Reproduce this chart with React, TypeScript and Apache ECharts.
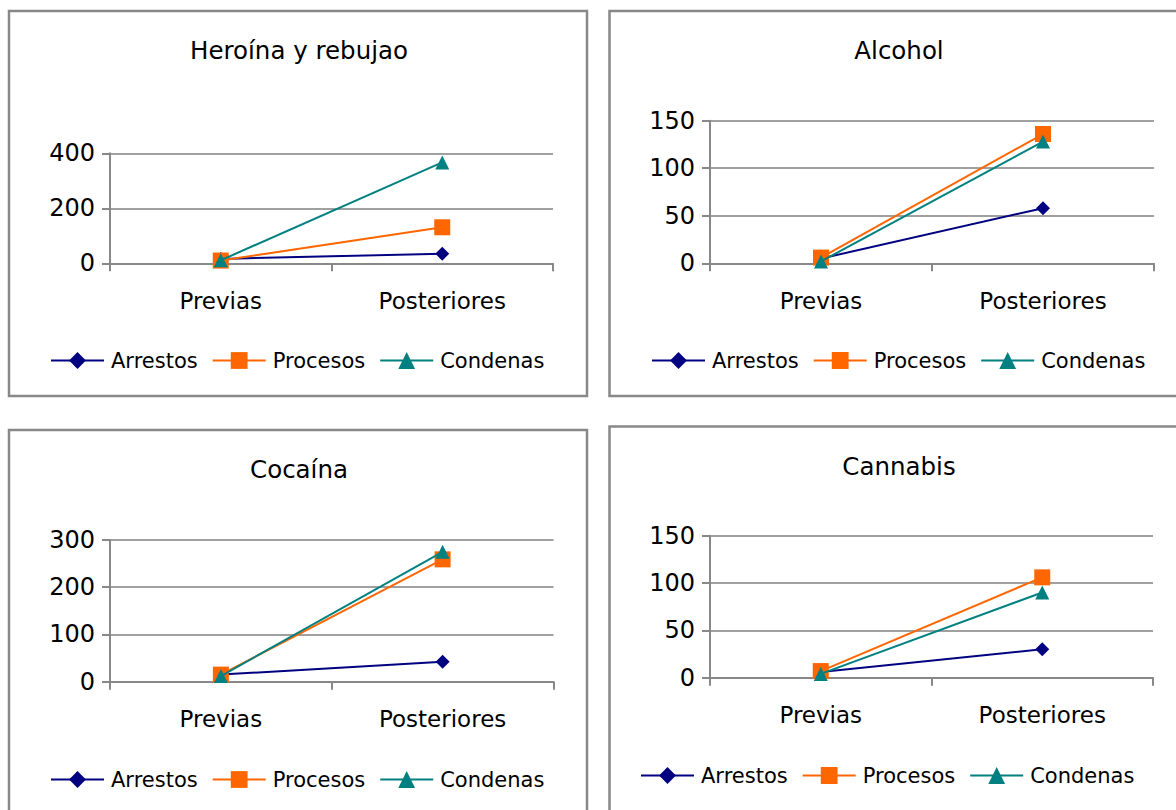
import React, { useEffect, useRef } from "react";
import * as echarts from "echarts";

const categories = ["Previas", "Posteriores"];
const seriesNames = ["Arrestos", "Procesos", "Condenas"];

const heroinaArrestos = [16, 35];
const heroinaProcesos = [10, 131];
const heroinaCondenas = [11, 367];

const alcoholArrestos = [5, 58];
const alcoholProcesos = [6, 136];
const alcoholCondenas = [2, 128];

const cocainaArrestos = [15, 42];
const cocainaProcesos = [15, 259];
const cocainaCondenas = [12, 275];

const cannabisArrestos = [6, 30];
const cannabisProcesos = [7, 106];
const cannabisCondenas = [4, 90];

const panelTitles = ["Heroína y rebujao", "Alcohol", "Cocaína", "Cannabis"];
const yMax = [400, 150, 300, 150];
const yInterval = [200, 50, 100, 50];

const FONT = "DejaVu Sans";
const COLORS = ["#000080", "#FF6600", "#008080"];
const SYMBOLS = ["diamond", "rect", "triangle"];
const SYMBOL_SIZES = [14, 16, 14];

export default function App() {
  const ref = useRef<HTMLDivElement>(null);

  useEffect(() => {
    if (!ref.current) return;
    const chart = echarts.init(ref.current, undefined, { renderer: "svg" });

    const panelData = [
      [heroinaArrestos, heroinaProcesos, heroinaCondenas],
      [alcoholArrestos, alcoholProcesos, alcoholCondenas],
      [cocainaArrestos, cocainaProcesos, cocainaCondenas],
      [cannabisArrestos, cannabisProcesos, cannabisCondenas],
    ];

    const grids = [
      { left: 110, top: 153.3, width: 443, height: 110 },
      { left: 710, top: 120.7, width: 444, height: 142.6 },
      { left: 110, top: 540, width: 443.5, height: 141.7 },
      { left: 710, top: 535.7, width: 443, height: 142 },
    ];
    const titlePos = [
      { cx: 294, top: 33 },
      { cx: 894, top: 33 },
      { cx: 294, top: 452 },
      { cx: 894, top: 449 },
    ];
    const legendTop = [350, 350, 769, 765];
    const legendLeft = [50, 651, 50, 640];

    const xAxis = grids.map((_, i) => ({
      type: "category",
      gridIndex: i,
      data: categories,
      boundaryGap: true,
      axisLine: { show: true, lineStyle: { color: "#888888", width: 2 } },
      axisTick: { show: true, length: 8, lineStyle: { color: "#888888", width: 2 } },
      axisLabel: { color: "#000", fontFamily: FONT, fontSize: 23, margin: 26 },
      splitLine: { show: false },
    }));

    const yAxis = grids.map((_, i) => ({
      type: "value",
      gridIndex: i,
      min: 0,
      max: yMax[i],
      interval: yInterval[i],
      axisLine: { show: true, lineStyle: { color: "#888888", width: 2 } },
      axisTick: { show: true, length: 8, lineStyle: { color: "#888888", width: 2 } },
      axisLabel: { color: "#000", fontFamily: FONT, fontSize: 24, margin: 15 },
      splitLine: { show: true, lineStyle: { color: "#a0a0a0", width: 2 } },
    }));

    const series: any[] = [];
    panelData.forEach((group, gi) => {
      group.forEach((vals, si) => {
        series.push({
          type: "line",
          name: seriesNames[si],
          xAxisIndex: gi,
          yAxisIndex: gi,
          data: vals,
          symbol: SYMBOLS[si],
          symbolSize: SYMBOL_SIZES[si],
          showAllSymbol: true,
          lineStyle: { color: COLORS[si], width: 2 },
          itemStyle: { color: COLORS[si] },
          z: 2 + si,
        });
      });
    });

    const titles = panelTitles.map((t, i) => ({
      text: t,
      left: titlePos[i].cx,
      top: titlePos[i].top,
      textAlign: "center",
      textStyle: { fontFamily: FONT, fontSize: 24.5, fontWeight: "normal", color: "#000" },
    }));

    const legends = legendTop.map((top, i) => ({
      data: seriesNames,
      left: legendLeft[i],
      top,
      padding: 0,
      orient: "horizontal",
      itemWidth: 53,
      itemHeight: 21,
      itemGap: 14,
      selectedMode: false,
      textStyle: { fontFamily: FONT, fontSize: 21, color: "#000", padding: [0, 0, 0, 2] },
    }));

    const boxes = [
      { x: 9, y: 11, width: 578, height: 385 },
      { x: 609.5, y: 11, width: 578, height: 385 },
      { x: 9, y: 430, width: 578, height: 400 },
      { x: 609.5, y: 426.5, width: 578, height: 400 },
    ];

    chart.setOption({
      animation: false,
      backgroundColor: "#ffffff",
      title: titles,
      legend: legends,
      grid: grids,
      xAxis,
      yAxis,
      series,
      graphic: boxes.map((b) => ({
        type: "rect",
        shape: b,
        style: { fill: "none", stroke: "#888888", lineWidth: 2.5 },
        silent: true,
        z: -10,
      })),
    });

    return () => chart.dispose();
  }, []);

  return (
    <div
      ref={ref}
      style={{ position: "absolute", left: 0, top: 0, width: 1176, height: 810 }}
    />
  );
}
